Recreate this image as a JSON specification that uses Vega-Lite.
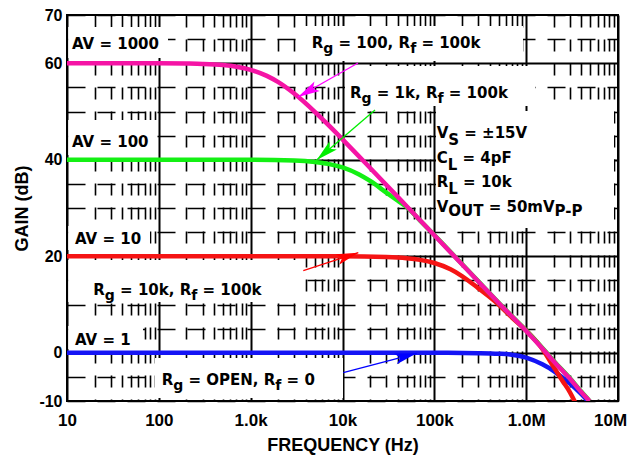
{
  "$schema": "https://vega.github.io/schema/vega-lite/v6.json",
  "width": 551,
  "height": 386,
  "autosize": {"type": "none"},
  "padding": {"left": 67, "top": 15, "right": 20, "bottom": 57},
  "background": "white",
  "config": {
    "view": {"stroke": "black", "strokeWidth": 2},
    "axis": {
      "labelFont": "Liberation Sans", "labelFontWeight": "bold", "labelColor": "black",
      "titleFont": "Liberation Sans", "titleFontWeight": "bold", "titleColor": "black",
      "ticks": false, "domain": false, "grid": true, "gridColor": "black", "gridOpacity": 1,
      "labelOverlap": false, "labelFlush": false
    }
  },
  "datasets": {
    "curves": [
      {"s": "AV1", "f": 10, "g": 0}, {"s": "AV1", "f": 100, "g": 0}, {"s": "AV1", "f": 1000, "g": 0}, {"s": "AV1", "f": 10000, "g": 0}, {"s": "AV1", "f": 100000, "g": 0}, {"s": "AV1", "f": 300000, "g": -0.08}, {"s": "AV1", "f": 500000, "g": -0.2}, {"s": "AV1", "f": 700000, "g": -0.4}, {"s": "AV1", "f": 1000000, "g": -1.0}, {"s": "AV1", "f": 1500000, "g": -2.4}, {"s": "AV1", "f": 2000000, "g": -3.8}, {"s": "AV1", "f": 2500000, "g": -5.2}, {"s": "AV1", "f": 3000000, "g": -6.4}, {"s": "AV1", "f": 4000000, "g": -8.6}, {"s": "AV1", "f": 4700000, "g": -10},
      {"s": "AV10", "f": 10, "g": 20}, {"s": "AV10", "f": 100, "g": 20}, {"s": "AV10", "f": 1000, "g": 20}, {"s": "AV10", "f": 10000, "g": 20}, {"s": "AV10", "f": 30000, "g": 19.85}, {"s": "AV10", "f": 50000, "g": 19.6}, {"s": "AV10", "f": 70000, "g": 19.25}, {"s": "AV10", "f": 100000, "g": 18.6}, {"s": "AV10", "f": 150000, "g": 17.3}, {"s": "AV10", "f": 200000, "g": 15.9}, {"s": "AV10", "f": 300000, "g": 13.4}, {"s": "AV10", "f": 500000, "g": 10.0}, {"s": "AV10", "f": 700000, "g": 7.3}, {"s": "AV10", "f": 1000000, "g": 4.6}, {"s": "AV10", "f": 1500000, "g": 0.8}, {"s": "AV10", "f": 2000000, "g": -3.0}, {"s": "AV10", "f": 2500000, "g": -5.9}, {"s": "AV10", "f": 3000000, "g": -8.2}, {"s": "AV10", "f": 3400000, "g": -10.2},
      {"s": "AV100", "f": 10, "g": 40}, {"s": "AV100", "f": 100, "g": 40}, {"s": "AV100", "f": 1000, "g": 40}, {"s": "AV100", "f": 3000, "g": 39.85}, {"s": "AV100", "f": 5000, "g": 39.55}, {"s": "AV100", "f": 7000, "g": 39.15}, {"s": "AV100", "f": 10000, "g": 38.4}, {"s": "AV100", "f": 15000, "g": 37.0}, {"s": "AV100", "f": 20000, "g": 35.6}, {"s": "AV100", "f": 30000, "g": 33.2}, {"s": "AV100", "f": 40000, "g": 31.5}, {"s": "AV100", "f": 50000, "g": 30.2}, {"s": "AV100", "f": 70000, "g": 27.4}, {"s": "AV100", "f": 100000, "g": 24.4}, {"s": "AV100", "f": 200000, "g": 18.4}, {"s": "AV100", "f": 500000, "g": 10.4}, {"s": "AV100", "f": 1000000, "g": 4.6}, {"s": "AV100", "f": 1600000, "g": 0.4}, {"s": "AV100", "f": 2000000, "g": -1.7}, {"s": "AV100", "f": 3000000, "g": -5.3}, {"s": "AV100", "f": 4000000, "g": -8.1}, {"s": "AV100", "f": 4900000, "g": -10},
      {"s": "AV1000", "f": 10, "g": 60}, {"s": "AV1000", "f": 100, "g": 60}, {"s": "AV1000", "f": 200, "g": 59.94}, {"s": "AV1000", "f": 300, "g": 59.86}, {"s": "AV1000", "f": 500, "g": 59.62}, {"s": "AV1000", "f": 700, "g": 59.28}, {"s": "AV1000", "f": 1000, "g": 58.64}, {"s": "AV1000", "f": 1500, "g": 57.38}, {"s": "AV1000", "f": 2000, "g": 56.07}, {"s": "AV1000", "f": 3000, "g": 53.66}, {"s": "AV1000", "f": 5000, "g": 49.92}, {"s": "AV1000", "f": 7000, "g": 47.21}, {"s": "AV1000", "f": 10000, "g": 44.23}, {"s": "AV1000", "f": 20000, "g": 38.3}, {"s": "AV1000", "f": 50000, "g": 30.37}, {"s": "AV1000", "f": 100000, "g": 24.35}, {"s": "AV1000", "f": 200000, "g": 18.33}, {"s": "AV1000", "f": 500000, "g": 10.37}, {"s": "AV1000", "f": 1000000, "g": 4.5}, {"s": "AV1000", "f": 1600000, "g": 0.3}, {"s": "AV1000", "f": 2000000, "g": -1.8}, {"s": "AV1000", "f": 3000000, "g": -5.4}, {"s": "AV1000", "f": 4000000, "g": -8.2}, {"s": "AV1000", "f": 4900000, "g": -10}
    ],
    "boxes": [
      {"f": 10.3, "f2": 125.8, "g": 67.5, "g2": 61.1},
      {"f": 3444, "f2": 923700, "g": 67.72, "g2": 60.47},
      {"f": 10650, "f2": 1248000, "g": 59.43, "g2": 51.14},
      {"f": 10.3, "f2": 95.5, "g": 48.24, "g2": 40.98},
      {"f": 104300, "f2": 9045000, "g": 50.1, "g2": 25.86},
      {"f": 10.3, "f2": 80.1, "g": 26.27, "g2": 21.3},
      {"f": 10.3, "f2": 3905, "g": 19.22, "g2": 10.52},
      {"f": 10.3, "f2": 67.2, "g": 5.54, "g2": 0.78},
      {"f": 90.84, "f2": 10130, "g": -1.09, "g2": -9.38}
    ],
    "arrows": [
      {"a": "m", "f": 14750, "g": 60.05, "f2": 3277, "g2": 53.0},
      {"a": "gr", "f": 22590, "g": 50.31, "f2": 5236, "g2": 39.95},
      {"a": "r", "f": 3742, "g": 17.0, "f2": 14860, "g2": 20.74},
      {"a": "b", "f": 10200, "g": -4.13, "f2": 64270, "g2": -0.11}
    ],
    "labels": [
      {"t": "R", "f": 4620, "g": 63.1, "k": "m"},
      {"t": "g", "f": 6170, "g": 63.1, "k": "s"},
      {"t": "= 100, R", "f": 9046, "g": 63.1, "k": "m"},
      {"t": "f", "f": 54500, "g": 63.1, "k": "s"},
      {"t": "= 100k", "f": 72280, "g": 63.1, "k": "m"},
      {"t": "R", "f": 12070, "g": 52.7, "k": "m"},
      {"t": "g", "f": 16120, "g": 52.7, "k": "s"},
      {"t": "= 1k, R", "f": 23630, "g": 52.7, "k": "m"},
      {"t": "f", "f": 108200, "g": 52.7, "k": "s"},
      {"t": "= 100k", "f": 143700, "g": 52.7, "k": "m"},
      {"t": "R", "f": 19.34, "g": 12.0, "k": "m"},
      {"t": "g", "f": 25.84, "g": 12.0, "k": "s"},
      {"t": "= 10k, R", "f": 37.86, "g": 12.0, "k": "m"},
      {"t": "f", "f": 225.2, "g": 12.0, "k": "s"},
      {"t": "= 100k", "f": 298.8, "g": 12.0, "k": "m"},
      {"t": "R", "f": 107.5, "g": -6.68, "k": "m"},
      {"t": "g", "f": 143.5, "g": -6.68, "k": "s"},
      {"t": "= OPEN, R", "f": 210.4, "g": -6.68, "k": "m"},
      {"t": "f", "f": 1855, "g": -6.68, "k": "s"},
      {"t": "= 0", "f": 2462, "g": -6.68, "k": "m"},
      {"t": "AV = 1000", "f": 11.34, "g": 62.9, "k": "m"},
      {"t": "AV = 100", "f": 11.34, "g": 42.7, "k": "m"},
      {"t": "AV = 10", "f": 12.22, "g": 22.5, "k": "m"},
      {"t": "AV = 1", "f": 12.22, "g": 1.6, "k": "m"},
      {"t": "V", "f": 106100, "g": 44.45, "k": "m"},
      {"t": "S", "f": 141900, "g": 44.45, "k": "q"},
      {"t": "= ±15V", "f": 212000, "g": 44.45, "k": "m"},
      {"t": "C", "f": 106100, "g": 39.37, "k": "m"},
      {"t": "L", "f": 139800, "g": 39.37, "k": "q"},
      {"t": "= 4pF", "f": 202600, "g": 39.37, "k": "m"},
      {"t": "R", "f": 106100, "g": 34.25, "k": "m"},
      {"t": "L", "f": 141900, "g": 34.25, "k": "q"},
      {"t": "= 10k", "f": 205700, "g": 34.25, "k": "m"},
      {"t": "V", "f": 106100, "g": 29.17, "k": "m"},
      {"t": "OUT", "f": 141900, "g": 29.17, "k": "u"},
      {"t": "= 50mV", "f": 390800, "g": 29.17, "k": "m"},
      {"t": "P-P", "f": 2040000, "g": 29.17, "k": "u"}
    ]
  },
  "encoding": {
    "x": {
      "field": "f", "type": "quantitative",
      "scale": {"type": "log", "domain": [10, 10000000], "nice": false},
      "axis": {
        "values": [10,20,30,40,50,60,70,80,90,100,200,300,400,500,600,700,800,900,1000,2000,3000,4000,5000,6000,7000,8000,9000,10000,20000,30000,40000,50000,60000,70000,80000,90000,100000,200000,300000,400000,500000,600000,700000,800000,900000,1000000,2000000,3000000,4000000,5000000,6000000,7000000,8000000,9000000,10000000],
        "labelExpr": "datum.value == 1000 ? '1.0k' : datum.value == 1000000 ? '1.0M' : datum.value == 10 ? '10' : datum.value == 100 ? '100' : datum.value == 10000 ? '10k' : datum.value == 100000 ? '100k' : datum.value == 10000000 ? '10M' : ''",
        "labelFontSize": 17,
        "labelPadding": 11,
        "labelOffset": {"condition": {"test": "datum.value == 10000000", "value": -8}, "value": 0},
        "gridWidth": {"condition": {"test": "indexof([10,100,1000,10000,100000,1000000,10000000], datum.value) >= 0", "value": 2}, "value": 1.6},
        "gridDash": {"condition": {"test": "indexof([10,100,1000,10000,100000,1000000,10000000], datum.value) >= 0", "value": []}, "value": [12, 12]},
        "title": "FREQUENCY (Hz)",
        "titleFontSize": 18,
        "titlePadding": 8
      }
    },
    "y": {
      "field": "g", "type": "quantitative",
      "scale": {"domain": [-10, 70], "nice": false, "zero": false},
      "axis": {
        "values": [-10,-5,0,5,10,15,20,25,30,35,40,45,50,55,60,65,70],
        "labelExpr": "indexof([70,60,40,20,0,-10], datum.value) >= 0 ? toString(datum.value) : ''",
        "labelFontSize": 16,
        "labelPadding": 5,
        "gridWidth": {"condition": {"test": "datum.value % 20 === 0", "value": 2}, "value": 1.6},
        "gridDash": {"condition": {"test": "datum.value % 20 === 0", "value": []}, "value": [18, 12]},
        "title": "GAIN (dB)",
        "titleFontSize": 18,
        "titlePadding": 7
      }
    }
  },
  "layer": [
    {
      "data": {"name": "boxes"},
      "mark": {"type": "rect", "fill": "white", "stroke": null},
      "encoding": {"x2": {"field": "f2"}, "y2": {"field": "g2"}}
    },
    {
      "data": {"name": "curves"},
      "transform": [{"filter": "datum.s == 'AV1'"}],
      "mark": {"type": "line", "color": "#1414f5", "strokeWidth": 4.5, "interpolate": "monotone", "clip": true},
      "encoding": {}
    },
    {
      "data": {"name": "curves"},
      "transform": [{"filter": "datum.s == 'AV10'"}],
      "mark": {"type": "line", "color": "#f51414", "strokeWidth": 4.5, "interpolate": "monotone", "clip": true},
      "encoding": {}
    },
    {
      "data": {"name": "curves"},
      "transform": [{"filter": "datum.s == 'AV100'"}],
      "mark": {"type": "line", "color": "#14f014", "strokeWidth": 4.5, "interpolate": "monotone", "clip": true},
      "encoding": {}
    },
    {
      "data": {"name": "curves"},
      "transform": [{"filter": "datum.s == 'AV1000'"}],
      "mark": {"type": "line", "color": "#f514a5", "strokeWidth": 4.5, "interpolate": "monotone", "clip": true},
      "encoding": {}
    },
    {
      "data": {"name": "arrows"},
      "mark": {"type": "rule", "strokeWidth": 1.3},
      "encoding": {
        "x2": {"field": "f2"}, "y2": {"field": "g2"},
        "color": {"field": "a", "type": "nominal", "legend": null,
          "scale": {"domain": ["m", "gr", "r", "b"], "range": ["#ff00ff", "#00ee00", "#ff0000", "#0000ff"]}}
      }
    },
    {
      "data": {"name": "arrows"},
      "transform": [{"filter": "datum.a == 'm'"}],
      "mark": {"type": "point", "shape": "M0,0L0.5,2L0,1.55L-0.5,2Z", "size": 484, "angle": 240.5, "filled": true, "opacity": 1, "color": "#ff00ff"},
      "encoding": {"x": {"field": "f2", "type": "quantitative"}, "y": {"field": "g2", "type": "quantitative"}}
    },
    {
      "data": {"name": "arrows"},
      "transform": [{"filter": "datum.a == 'gr'"}],
      "mark": {"type": "point", "shape": "M0,0L0.5,2L0,1.55L-0.5,2Z", "size": 484, "angle": 228.7, "filled": true, "opacity": 1, "color": "#00ee00"},
      "encoding": {"x": {"field": "f2", "type": "quantitative"}, "y": {"field": "g2", "type": "quantitative"}}
    },
    {
      "data": {"name": "arrows"},
      "transform": [{"filter": "datum.a == 'r'"}],
      "mark": {"type": "point", "shape": "M0,0L0.5,2L0,1.55L-0.5,2Z", "size": 484, "angle": 71.9, "filled": true, "opacity": 1, "color": "#ff0000"},
      "encoding": {"x": {"field": "f2", "type": "quantitative"}, "y": {"field": "g2", "type": "quantitative"}}
    },
    {
      "data": {"name": "arrows"},
      "transform": [{"filter": "datum.a == 'b'"}],
      "mark": {"type": "point", "shape": "M0,0L0.5,2L0,1.55L-0.5,2Z", "size": 484, "angle": 75.2, "filled": true, "opacity": 1, "color": "#0000ff"},
      "encoding": {"x": {"field": "f2", "type": "quantitative"}, "y": {"field": "g2", "type": "quantitative"}}
    },
    {
      "data": {"name": "labels"},
      "transform": [{"filter": "datum.k == 'm'"}],
      "mark": {"type": "text", "font": "DejaVu Sans", "fontWeight": "bold", "fontSize": 15, "align": "left", "baseline": "alphabetic", "color": "black"},
      "encoding": {"text": {"field": "t"}}
    },
    {
      "data": {"name": "labels"},
      "transform": [{"filter": "datum.k == 's'"}],
      "mark": {"type": "text", "font": "DejaVu Sans", "fontWeight": "bold", "fontSize": 14, "dy": 5, "align": "left", "baseline": "alphabetic", "color": "black"},
      "encoding": {"text": {"field": "t"}}
    },
    {
      "data": {"name": "labels"},
      "transform": [{"filter": "datum.k == 'q'"}],
      "mark": {"type": "text", "font": "DejaVu Sans", "fontWeight": "bold", "fontSize": 15, "dy": 7, "align": "left", "baseline": "alphabetic", "color": "black"},
      "encoding": {"text": {"field": "t"}}
    },
    {
      "data": {"name": "labels"},
      "transform": [{"filter": "datum.k == 'u'"}],
      "mark": {"type": "text", "font": "DejaVu Sans", "fontWeight": "bold", "fontSize": 15, "dy": 3.5, "align": "left", "baseline": "alphabetic", "color": "black"},
      "encoding": {"text": {"field": "t"}}
    }
  ]
}
